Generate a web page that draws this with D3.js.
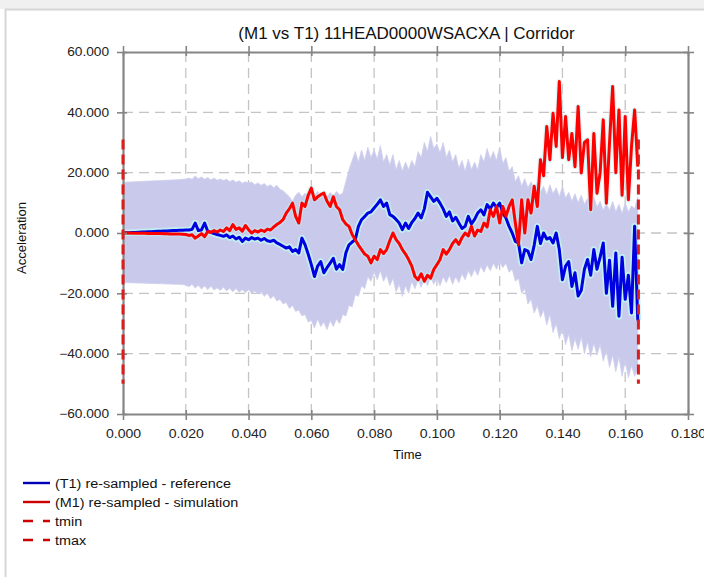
<!DOCTYPE html>
<html>
<head>
<meta charset="utf-8">
<script src="https://cdn.jsdelivr.net/npm/d3@7"></script>
<style>
  html, body { margin: 0; padding: 0; background: #ffffff; }
  svg { display: block; font-family: "Liberation Sans", Arial, sans-serif; }
</style>
</head>
<body>
<svg id="chart" width="704" height="577"></svg>
<script>
// ---------------- DATA ----------------
const titleText = "(M1 vs T1) 11HEAD0000WSACXA | Corridor";
const xLabel = "Time";
const yLabel = "Acceleration";
const xTicks = [0, 0.02, 0.04, 0.06, 0.08, 0.10, 0.12, 0.14, 0.16, 0.18];
const yTicks = [-60, -40, -20, 0, 20, 40, 60];
const legendLabels = ["(T1) re-sampled - reference", "(M1) re-sampled - simulation", "tmin", "tmax"];

// sample spacing of all series (s)
const sampleStep = 0.001;

// (T1) reference, one value per ms from 0.000 to 0.164
const referenceValues = [
  0, 0.05, 0.1, 0.15, 0.2, 0.25, 0.3, 0.35, 0.4, 0.45,
  0.5, 0.55, 0.6, 0.65, 0.7, 0.75, 0.8, 0.85, 0.9, 0.95,
  1.0, 1.0, 1.2, 3.3, 0.8, 1.0, 3.3, 0.6, 0.2, -0.2,
  -0.5, -0.8, -1.1, -0.6, -1.5, -1.0, -2.0, -1.4, -2.8, -1.7,
  -2.2, -1.5, -2.0, -1.7, -2.4, -1.8, -2.6, -2.8, -2.4, -3.3,
  -3.8, -4.4, -5.0, -4.6, -6.1, -5.5, -6.6, -1.7, -3.9, -7.0,
  -10.5, -14.4, -11.0, -9.5, -13.2, -11.5, -10.0, -8.4, -12.0, -10.5,
  -12.1, -6.6, -3.9, -3.0, -2.2, 2.2, 4.4, 5.5, 6.6, 7.0,
  8.3, 9.5, 11.0, 8.8, 9.9, 6.1, 5.5, 4.5, 3.3, 1.1,
  3.3, 1.5, 3.5, 4.8, 6.6, 5.0, 8.0, 13.5, 12.0, 10.5,
  11.5, 9.9, 8.0, 5.5, 7.0, 4.0, 5.2, 3.3, 1.5, 2.2,
  5.5, 3.0, 4.5, 6.6, 7.7, 6.0, 9.4, 8.0, 9.9, 8.5,
  9.9, 6.6, 5.0, 2.2, 0, -2.8, -3.3, -9.9, -5.5, -6.0,
  -8.8, -4.0, 2.2, -3.5, 0, -2.0, -1.5, -3.3, 0, -5.5,
  -15.5, -11.0, -9.5, -17.7, -13.2, -20.9, -19.0, -12.0, -8.8, -14.0,
  -5.5, -12.0, -8.0, -3.3, -20.0, -9.0, -24.3, -6.6, -27.6, -8.0,
  -22.0, -14.0, -26.5, 2.2, -29.0
];

// (M1) simulation, one value per ms from 0.000 to 0.164
const simulationValues = [
  0, 0, 0, -0.05, -0.05, -0.1, -0.1, -0.1, -0.15, -0.15,
  -0.2, -0.2, -0.2, -0.25, -0.25, -0.3, -0.3, -0.3, -0.35, -0.4,
  -0.5, -0.8, -0.6, -1.7, -1.0, -0.2, -1.2, 0.5, 0.2, 0.8,
  0.3, 1.0, 0.5, 1.7, 0.8, 2.8, 1.2, 1.7, 0.6, 2.5,
  1.1, 0, 0.8, 0.3, 1.0, 0.5, 1.3, 1.0, 2.0, 2.8,
  3.5, 4.4, 6.6, 8.0, 9.9, 5.5, 3.3, 9.9, 8.8, 12.5,
  14.9, 11.0, 12.0, 12.7, 13.2, 10.5, 8.8, 12.0, 8.8, 7.7,
  4.4, 3.0, 2.2, -0.5, -2.2, -4.0, -5.5, -7.0, -7.7, -9.9,
  -7.7, -8.8, -5.5, -6.8, -5.5, -2.5, 0, -2.2, -3.5, -5.5,
  -7.0, -8.8, -11.0, -14.4, -15.5, -13.5, -16.0, -14.0, -15.0, -12.1,
  -10.5, -8.8, -5.5, -7.0, -5.5, -3.5, -2.2, -3.8, -1.5, 0,
  -1.0, 2.2, -1.0, 1.0, 0.5, 3.3, 2.0, 7.7, 5.5, 8.8,
  3.3, 8.8, 5.5, 8.8, 11.0, 3.3, -3.9, 11.0, 0, 11.0,
  6.6, 15.5, 8.8, 24.3, 19.0, 35.3, 24.3, 39.7, 28.7, 50.2,
  25.0, 38.6, 24.3, 33.0, 22.0, 41.9, 19.9, 30.0, 30.9, 7.7,
  33.0, 13.2, 20.0, 37.5, 9.9, 30.0, 48.6, 20.0, 40.8, 12.5,
  38.6, 11.0, 28.7, 40.8, 22.0
];

// corridor bounds, one value per ms from 0.000 to 0.164
const corridorUpper = [
  16.8, 16.85, 16.9, 16.95, 17.0, 17.05, 17.1, 17.15, 17.2, 17.25,
  17.3, 17.35, 17.4, 17.45, 17.5, 17.55, 17.6, 17.65, 17.7, 17.8,
  17.9, 18.2, 17.8, 18.9, 18.0, 18.6, 17.8, 18.4, 17.6, 18.2,
  17.5, 17.9, 17.4, 17.8, 17.0, 17.6, 16.8, 17.3, 16.5, 17.0,
  16.6, 16.9, 16.0, 16.6, 15.8, 16.4, 15.4, 16.0, 15.0, 15.8,
  14.5, 14.0, 13.0, 12.0, 10.5, 12.5, 13.5, 12.0, 13.2, 12.0,
  13.5, 12.2, 13.8, 11.8, 13.0, 12.0, 13.4, 12.3, 13.8, 12.6,
  13.2, 17.0, 21.0, 24.0, 27.0, 23.5, 27.5, 24.0, 28.5, 25.0,
  27.5, 24.5, 29.0, 23.5, 26.0, 22.5, 26.0, 21.0, 24.0, 20.5,
  23.5, 21.0, 24.0, 22.0, 27.0, 25.0, 30.0, 27.0, 32.0, 28.0,
  29.5, 26.5, 30.0, 25.0, 27.5, 23.5, 26.0, 21.5, 24.0, 20.5,
  24.5, 21.0, 23.5, 21.0, 26.0, 23.5, 28.0, 24.5, 27.0, 24.0,
  28.5, 23.0, 25.0, 20.5, 22.0, 17.0, 19.0, 15.5, 18.0, 15.0,
  17.0, 14.5, 16.5, 13.5, 15.5, 12.5, 16.0, 13.0, 15.0, 12.0,
  15.5, 11.5, 13.5, 10.5, 13.0, 10.0, 12.5, 9.5, 11.5, 9.0,
  12.0, 8.5, 10.5, 7.5, 10.0, 7.5, 10.5, 7.0, 9.5, 6.5,
  10.0, 7.0, 9.0, 8.0, 12.0
];
const corridorLower = [
  -16.4, -16.45, -16.5, -16.5, -16.55, -16.6, -16.6, -16.65, -16.7, -16.7,
  -16.75, -16.8, -16.8, -16.85, -16.9, -16.9, -16.95, -17.0, -17.0, -17.1,
  -17.2, -17.8, -17.0, -18.2, -17.3, -18.6, -17.5, -18.8, -17.6, -18.9,
  -18.2, -19.0, -18.0, -19.2, -18.3, -19.5, -18.4, -19.6, -18.8, -19.8,
  -18.8, -20.0, -19.2, -20.3, -19.5, -21.0, -20.0, -21.8, -20.8, -22.5,
  -22.0, -23.5, -23.0, -25.0, -24.0, -26.0, -25.5, -27.5, -27.0, -29.5,
  -29.0, -31.5, -28.5, -31.0, -29.5, -32.0, -29.0, -31.0, -28.5, -30.0,
  -27.0, -27.5, -24.0, -24.5, -20.5, -21.0, -17.5, -18.5, -14.5, -16.0,
  -13.0, -15.5, -12.5, -16.0, -14.0, -17.5, -15.0, -19.5, -17.0, -21.0,
  -17.5, -20.0, -16.0, -18.5, -15.5, -18.0, -15.0, -17.5, -14.5, -17.0,
  -15.0, -17.5, -14.5, -16.5, -14.0, -17.0, -14.5, -16.5, -13.5, -15.5,
  -12.5, -14.5, -12.0, -14.0, -11.0, -13.0, -10.5, -12.5, -10.0, -12.0,
  -9.5, -11.5, -10.0, -13.0, -12.0, -16.0, -15.0, -20.0, -18.5, -23.5,
  -22.0, -26.5, -24.0, -28.0, -25.5, -30.5, -27.0, -33.0, -30.0, -35.0,
  -32.0, -37.0, -33.5, -39.0, -35.0, -38.5, -34.5, -40.0, -36.0, -41.0,
  -36.5, -40.5, -37.0, -42.5, -39.0, -44.5, -40.5, -46.0, -41.0, -47.5,
  -42.5, -48.0, -44.0, -47.5, -45.0
];

// tmin / tmax markers
const tMin = 0.0;
const tMax = 0.1642;
const markerRange = [-50, 31];

// ---------------- DRAWING ----------------
const svg = d3.select("#chart");
const W = 704, H = 577;
const plot = { left: 123, right: 688, top: 52, bottom: 414 };

const x = d3.scaleLinear().domain([0, 0.18]).range([plot.left, plot.right]);
const y = d3.scaleLinear().domain([-60, 60]).range([plot.bottom, plot.top]);

function stretch(sel, factor) {
  sel.each(function () {
    const L = this.getComputedTextLength();
    this.setAttribute("textLength", (L * factor).toFixed(2));
    this.setAttribute("lengthAdjust", "spacingAndGlyphs");
  });
}

// frame of the panel
svg.append("rect").attr("x", 0).attr("y", 0).attr("width", W).attr("height", H).attr("fill", "#ffffff");
svg.append("rect").attr("x", 0).attr("y", 0).attr("width", W).attr("height", 9).attr("fill", "#f0f0f0");
svg.append("line").attr("x1", 5).attr("x2", W).attr("y1", 9.5).attr("y2", 9.5)
  .attr("stroke", "#d6d6d6").attr("stroke-width", 2);
svg.append("line").attr("x1", 5.5).attr("x2", 5.5).attr("y1", 9).attr("y2", H)
  .attr("stroke", "#d6d6d6").attr("stroke-width", 2);

// title
svg.append("text").attr("x", (plot.left + plot.right) / 2 + 1).attr("y", 39)
  .attr("text-anchor", "middle").attr("font-size", 17).attr("fill", "#111")
  .text(titleText);

// grid
const grid = svg.append("g").attr("stroke", "#c4c4c4").attr("stroke-width", 1.3)
  .attr("stroke-dasharray", "10,6");
grid.selectAll("line.v").data(xTicks.filter(d => d > 0 && d < 0.18)).enter().append("line")
  .attr("x1", d => x(d)).attr("x2", d => x(d)).attr("y1", plot.top).attr("y2", plot.bottom);
grid.selectAll("line.h").data(yTicks.filter(d => d > -60 && d < 60)).enter().append("line")
  .attr("x1", plot.left).attr("x2", plot.right).attr("y1", d => y(d)).attr("y2", d => y(d));

// clip
svg.append("clipPath").attr("id", "clip").append("rect")
  .attr("x", plot.left).attr("y", plot.top)
  .attr("width", plot.right - plot.left).attr("height", plot.bottom - plot.top);
const g = svg.append("g").attr("clip-path", "url(#clip)");

// corridor
const corridor = corridorUpper.map((u, i) => ({ t: i * sampleStep, u: u, l: corridorLower[i] }));
g.append("path").datum(corridor)
  .attr("fill", "#c9c9ec").attr("stroke", "#cfcfee").attr("stroke-width", 0.8)
  .attr("d", d3.area().x(d => x(d.t)).y0(d => y(d.l)).y1(d => y(d.u)));

const ref = referenceValues.map((v, i) => ({ t: i * sampleStep, v: v }));
const sim = simulationValues.map((v, i) => ({ t: i * sampleStep, v: v }));
const line = d3.line().x(d => x(d.t)).y(d => y(d.v));

// light halo (inner corridor look)
g.append("path").datum(ref).attr("fill", "none").attr("stroke", "#c2f0f0")
  .attr("stroke-width", 6.5).attr("stroke-linejoin", "round").attr("d", line);
g.append("path").datum(sim).attr("fill", "none").attr("stroke", "#c2f0f0")
  .attr("stroke-opacity", 0.6)
  .attr("stroke-width", 5.5).attr("stroke-linejoin", "round").attr("d", line);

g.append("path").datum(ref).attr("fill", "none").attr("stroke", "#0000e0")
  .attr("stroke-width", 3).attr("stroke-linejoin", "round").attr("d", line);
g.append("path").datum(sim).attr("fill", "none").attr("stroke", "#ff0000")
  .attr("stroke-width", 3).attr("stroke-linejoin", "round").attr("d", line);

// axes
const axisColor = "#858585";
function styleAxis(sel) {
  sel.select(".domain").attr("stroke", axisColor).attr("stroke-width", 2.2);
  sel.selectAll(".tick line").attr("stroke", axisColor).attr("stroke-width", 1.6);
  sel.selectAll(".tick text").attr("fill", "#222").attr("font-size", 12)
    .attr("font-family", "'Liberation Sans', Arial, sans-serif");
}
const fmt = d3.format(".3f");

const axB = svg.append("g").attr("transform", `translate(0,${plot.bottom})`)
  .call(d3.axisBottom(x).tickValues(xTicks).tickFormat(fmt).tickSize(6).tickPadding(9).tickSizeOuter(0));
axB.selectAll(".tick line").attr("y1", -4);
styleAxis(axB);
stretch(axB.selectAll(".tick text"), 1.17);

const axL = svg.append("g").attr("transform", `translate(${plot.left},0)`)
  .call(d3.axisLeft(y).tickValues(yTicks).tickFormat(fmt).tickSize(6).tickPadding(8).tickSizeOuter(0));
axL.selectAll(".tick line").attr("x1", 4);
styleAxis(axL);
stretch(axL.selectAll(".tick text"), 1.14);

const axT = svg.append("g").attr("transform", `translate(0,${plot.top})`)
  .call(d3.axisTop(x).tickValues(xTicks).tickFormat("").tickSize(6).tickSizeOuter(0));
axT.selectAll(".tick line").attr("y1", 4);
styleAxis(axT);

const axR = svg.append("g").attr("transform", `translate(${plot.right},0)`)
  .call(d3.axisRight(y).tickValues(yTicks).tickFormat("").tickSize(6).tickSizeOuter(0));
axR.selectAll(".tick line").attr("x1", -4);
styleAxis(axR);

// tmin / tmax dashed markers
[tMin, tMax].forEach(t => {
  svg.append("line").attr("x1", x(t)).attr("x2", x(t))
    .attr("y1", y(markerRange[1])).attr("y2", y(markerRange[0]))
    .attr("stroke", "#dd1c1c").attr("stroke-width", 3).attr("stroke-dasharray", "10,5");
});

// axis titles
const xt = svg.append("text").attr("x", (plot.left + plot.right) / 2 + 2).attr("y", 459)
  .attr("text-anchor", "middle").attr("font-size", 12).attr("fill", "#111").text(xLabel);
stretch(xt, 1.08);
const yt = svg.append("text").attr("transform", "translate(26,238) rotate(-90)")
  .attr("text-anchor", "middle").attr("font-size", 12).attr("fill", "#111").text(yLabel);
stretch(yt, 1.09);

// legend
const legendStyles = [
  { color: "#0000b8", dash: null },
  { color: "#cc0000", dash: null },
  { color: "#cc0000", dash: "10,10" },
  { color: "#cc0000", dash: "10,10" }
];
const lg = svg.append("g");
legendLabels.forEach((lab, i) => {
  const yy = 483 + i * 19;
  lg.append("line").attr("x1", 23).attr("x2", 50).attr("y1", yy).attr("y2", yy)
    .attr("stroke", legendStyles[i].color).attr("stroke-width", 2.4)
    .attr("stroke-dasharray", legendStyles[i].dash);
  const tx = lg.append("text").attr("x", 55).attr("y", yy + 4.5).attr("font-size", 12)
    .attr("fill", "#111").text(lab);
  stretch(tx, 1.2);
});
</script>
</body>
</html>
